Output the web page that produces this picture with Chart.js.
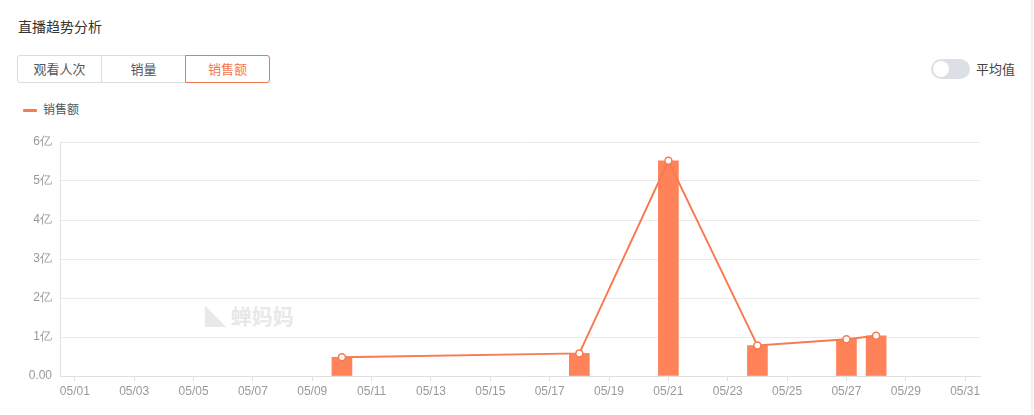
<!DOCTYPE html>
<html>
<head>
<meta charset="utf-8">
<script src="https://cdn.jsdelivr.net/npm/chart.js@4/dist/chart.umd.min.js"></script>
<style>
  body { margin: 0; width: 1034px; height: 415px; background: #fff; overflow: hidden;
         font-family: "Noto Sans CJK SC", "Noto Sans", sans-serif; position: relative; }
  .title { position: absolute; left: 18px; top: 16px; font-size: 14px; color: #333; }
  .tabs { position: absolute; left: 17px; top: 55px; display: flex; }
  .tab { box-sizing: border-box; width: 85px; height: 28px; border: 1px solid #dcdcdc; margin-left: -1px;
         font-size: 13px; color: #555; text-align: center; line-height: 26px; background: #fff; }
  .tab:first-child { margin-left: 0; border-radius: 3px 0 0 3px; width: 85px; }
  .tab.active { border-color: #f0774f; color: #f0774f; border-radius: 0 3px 3px 0; position: relative; }
  .toggle { position: absolute; left: 931px; top: 59px; width: 39px; height: 20px; border-radius: 10px; background: #dcdfe6; }
  .toggle::after { content: ""; position: absolute; left: 2px; top: 2px; width: 16px; height: 16px; border-radius: 50%; background: #fff; }
  .toggle-label { position: absolute; left: 976px; top: 59px; font-size: 13px; color: #444; line-height: 20px; }
  .legend { position: absolute; left: 23px; top: 100px; font-size: 12px; color: #555; line-height: 18px; }
  .legend i { display: inline-block; width: 14px; height: 3px; background: #f87a52; vertical-align: middle; margin-right: 6px; border-radius: 1px; }
  .mark { position: absolute; left: 205px; top: 300px; font-size: 21px; font-weight: bold; color: #e8e8e8; }
  .edge { position: absolute; left: 1031px; top: 0; width: 2px; height: 415px; background: #f0f0f0; }
  .box { position: absolute; left: 0; top: 125px; width: 1000px; height: 290px; }
</style>
</head>
<body>
<div class="title">直播趋势分析</div>
<div class="tabs">
  <div class="tab">观看人次</div>
  <div class="tab">销量</div>
  <div class="tab active">销售额</div>
</div>
<div class="toggle"></div>
<div class="toggle-label">平均值</div>
<div class="legend"><i></i>销售额</div>
<div class="mark">◣ 蝉妈妈</div>
<div class="edge"></div>
<div class="box"><canvas id="trendChart"></canvas></div>
<script>
// 05/01 .. 05/31
const days = [];
for (let d = 1; d <= 31; d++) days.push("05/" + String(d).padStart(2, "0"));

// sales, unit: 亿
const sales = [
  null, null, null, null, null, null, null, null, null, 0.48,
  null, null, null, null, null, null, null, 0.58, null, null,
  5.52, null, null, 0.78, null, null, 0.94, 1.03, null, null,
  null
];

const yTicks = [0, 1, 2, 3, 4, 5, 6];

const barColor = "#ff8258";
const lineColor = "#f87a52";

new Chart(document.getElementById("trendChart"), {
  data: {
    labels: days,
    datasets: [
      {
        type: "line",
        label: "销售额",
        data: sales,
        spanGaps: true,
        borderColor: lineColor,
        borderWidth: 2,
        pointRadius: 3.5,
        pointBorderWidth: 1.5,
        pointBackgroundColor: "#fff",
        pointBorderColor: lineColor,
        tension: 0,
        order: 0,
      },
      {
        type: "bar",
        label: "销售额",
        data: sales,
        backgroundColor: barColor,
        barThickness: 20,
        order: 1,
      }
    ]
  },
  options: {
    responsive: true,
    maintainAspectRatio: false,
    animation: false,
    layout: { padding: { left: 0, right: 20, top: 17, bottom: 0 } },
    plugins: { legend: { display: false }, tooltip: { enabled: false } },
    scales: {
      x: {
        offset: true,
        grid: { display: true, drawOnChartArea: false, offset: false, tickLength: 5, color: "#e0e0e0" },
        border: { color: "#e0e0e0" },
        ticks: {
          autoSkip: false,
          maxRotation: 0,
          color: "#999",
          font: { size: 12 },
          padding: 3,
          callback: (v, i) => (i % 2 === 0 ? days[i] : null),
        },
        afterFit: s => { s.height = 39; },
      },
      y: {
        min: 0,
        max: 6,
        afterBuildTicks: s => { s.ticks = yTicks.map(v => ({ value: v })); },
        grid: { color: "#ebebeb", drawTicks: false },
        border: { color: "#e0e0e0" },
        ticks: {
          color: "#999",
          font: { size: 12 },
          padding: 8,
          callback: v => (v === 0 ? "0.00" : v + "亿"),
        },
        afterFit: s => { s.width = 60; },
      }
    }
  }
});
</script>
</body>
</html>
